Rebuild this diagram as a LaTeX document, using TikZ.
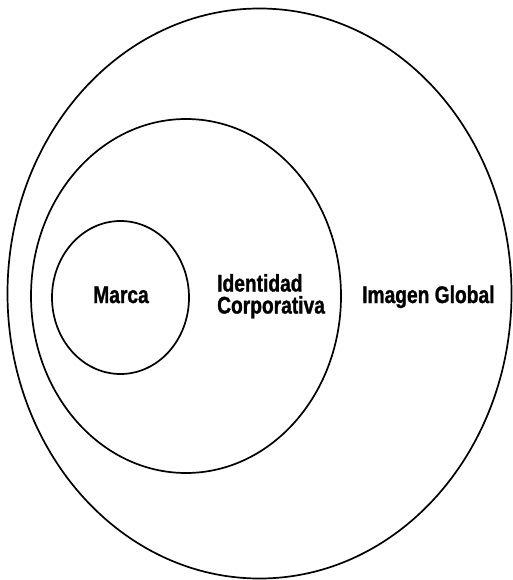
\documentclass[tikz,border=0pt]{standalone}
\usepackage{fontspec}
\usetikzlibrary{shapes.geometric}
\newfontfamily\labfont[FakeStretch=0.8,FakeBold=1.2]{Liberation Sans Bold}
\begin{document}
\begin{tikzpicture}[x=1pt,y=-1pt,
  ring/.style={draw=black, ellipse, line width=1.7pt, inner sep=0pt, outer sep=0pt},
  lab/.style={inner sep=0pt, font=\labfont\fontsize{24}{22}\selectfont, text=black}]
\useasboundingbox (0,0) rectangle (513,580);
\node[ring, minimum width=504pt, minimum height=570pt] (outer) at (259.5,293.5) {};
\node[ring, minimum width=310pt, minimum height=354pt] (middle) at (186,296) {};
\node[ring, minimum width=137pt, minimum height=153pt] (inner) at (120.5,297.5) {};
\node[lab, anchor=base] (marca) at (121,303) {Marca};
\node[lab, anchor=base west, align=left] (ident) at (217,313.5) {Identidad\\Corporativa};
\node[lab, anchor=base west] (imagen) at (362,303) {Imagen Global};
\end{tikzpicture}
\end{document}
